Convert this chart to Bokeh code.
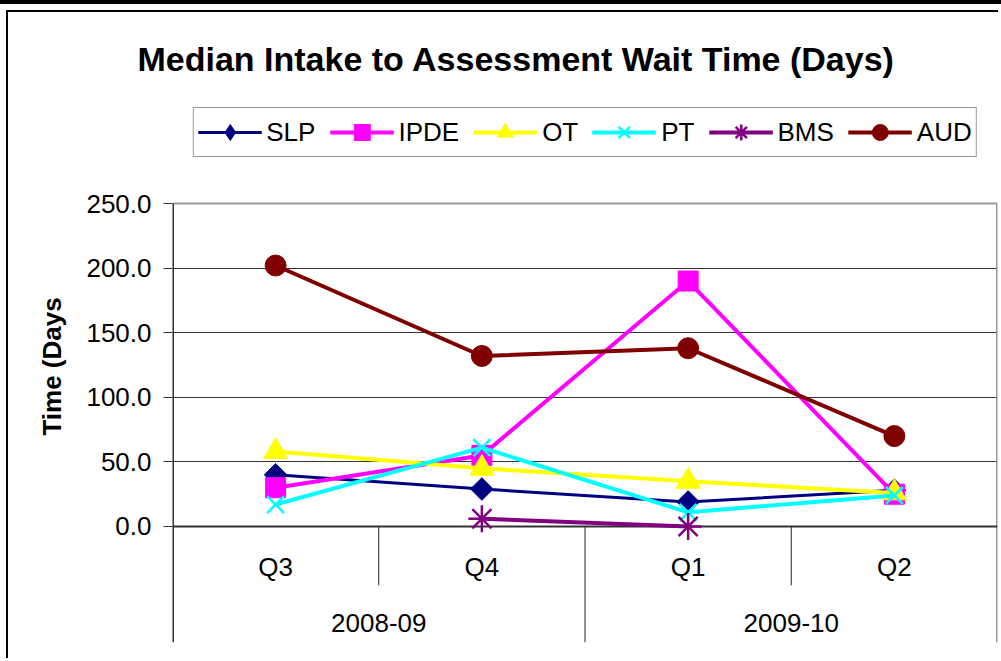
import math
from bokeh.plotting import figure
from bokeh.models import (FactorRange, ColumnDataSource, Legend, LegendItem,
                          NumeralTickFormatter, FixedTicker)
from bokeh.core.properties import value
from bokeh.embed import file_html
from bokeh.resources import INLINE

# ---- data ----
years = ["2008-09", "2008-09", "2009-10", "2009-10"]
quarters = ["Q3", "Q4", "Q1", "Q2"]
slp = [40.0, 29.0, 19.0, 28.0]
ipde = [30.0, 55.0, 190.0, 25.0]
ot = [58.0, 45.0, 35.0, 26.0]
pt = [17.0, 61.0, 11.0, 24.0]
bms = [float("nan"), 6.0, 0.0, float("nan")]
aud = [202.0, 132.0, 138.0, 70.0]
y_ticks = [0, 50, 100, 150, 200, 250]
series_names = ["SLP", "IPDE", "OT", "PT", "BMS", "AUD"]

factors = list(zip(years, quarters))
year_groups = list(dict.fromkeys(years))
FONT = "Liberation Sans"

# value axis runs 0..250; the frame is extended above (legend band)
# and below (category label band)
AX_MIN, AX_MAX = 0, 250
VIEW_TOP = 337.5
VIEW_BOTTOM = -89.8
Q_LABEL_Y = -31.7
YEAR_LABEL_Y = -75.0
SHORT_SEP = -45.5

x_range = FactorRange(*factors, group_padding=0, factor_padding=0, range_padding=0)
p = figure(x_range=x_range, y_range=(VIEW_BOTTOM, VIEW_TOP), width=992, height=648,
           output_backend="svg", toolbar_location=None, x_axis_location=None,
           min_border_left=164, min_border_right=3, min_border_top=78,
           min_border_bottom=18,
           title="Median Intake to Assessment Wait Time (Days)")
p.styles = {"border-top": "2px solid #000", "border-left": "2px solid #000",
            "margin-left": "6px", "margin-top": "10px",
            "box-shadow": "0 0 0 6px white, 0 -4px 0 6px black"}

p.title.text_font = FONT
p.title.text_font_size = "34px"
p.title.text_font_style = "bold"
p.title.text_color = "black"
p.title.align = "left"
p.title.offset = -35
p.title.standoff = 25

p.outline_line_color = None
p.background_fill_color = "white"

# grid (inner lines only)
p.xgrid.grid_line_color = None
p.ygrid.ticker = FixedTicker(ticks=y_ticks[1:-1])
p.ygrid.grid_line_color = "#333333"
p.ygrid.grid_line_width = 1

n = len(factors)
# plot-area border: top and right in grey, zero line and left line dark
p.segment(x0=[0], y0=[AX_MAX], x1=[n], y1=[AX_MAX], line_color="#999999", line_width=2)
p.segment(x0=[n], y0=[VIEW_BOTTOM], x1=[n], y1=[AX_MAX], line_color="#999999", line_width=3)
p.segment(x0=[0], y0=[AX_MIN], x1=[n], y1=[AX_MIN], line_color="#333333", line_width=2)
p.segment(x0=[0], y0=[VIEW_BOTTOM], x1=[0], y1=[AX_MAX], line_color="#333333", line_width=3)

# y axis
p.yaxis.ticker = FixedTicker(ticks=y_ticks)
p.yaxis.formatter = NumeralTickFormatter(format="0.0")
p.yaxis.axis_label = "Time (Days"
p.yaxis.axis_label_text_font = FONT
p.yaxis.axis_label_text_font_size = "26px"
p.yaxis.axis_label_text_font_style = "bold"
p.yaxis.axis_label_text_color = "black"
p.yaxis.axis_label_standoff = 16
p.yaxis.major_label_text_font = FONT
p.yaxis.major_label_text_font_size = "26px"
p.yaxis.major_label_text_color = "black"
p.yaxis.major_label_standoff = 12
p.yaxis.major_tick_out = 9
p.yaxis.major_tick_in = 0
p.yaxis.minor_tick_line_color = None
p.yaxis.axis_line_color = None
p.yaxis.major_tick_line_color = "#333333"

# category separators below zero (boundaries between factors)
sep_x, sep_y1 = [], []
for b in range(1, n):
    sep_x.append(b)
    sep_y1.append(VIEW_BOTTOM if factors[b - 1][0] != factors[b][0] else SHORT_SEP)
p.segment(x0=sep_x, y0=[AX_MIN] * len(sep_x), x1=sep_x, y1=sep_y1,
          line_color="#222222", line_width=1)

# category labels
p.text(x=factors, y=[Q_LABEL_Y] * n, text=quarters,
       text_font=value(FONT), text_font_size=value("26px"), text_color="black",
       text_align="center", text_baseline="middle")
p.text(x=year_groups, y=[YEAR_LABEL_Y] * len(year_groups), text=year_groups,
       text_font=value(FONT), text_font_size=value("26px"), text_color="black",
       text_align="center", text_baseline="middle")

src = ColumnDataSource(dict(x=factors, slp=slp, ipde=ipde, ot=ot, pt=pt, bms=bms, aud=aud))

# (column, colour, marker, size, line width, marker angle)
styles = [
    ("slp", "#000080", "square", 16, 3, math.pi / 4),
    ("ipde", "#FF00FF", "square", 20, 4, 0),
    ("ot", "#FFFF00", "triangle", 24, 4, 0),
    ("pt", "#00FFFF", "x", 24, 4, 0),
    ("bms", "#800080", "asterisk", 27, 4, 0),
    ("aud", "#800000", "circle", 21, 4, 0),
]
items = []
for (col, color, marker, size, lw, ang), name in zip(styles, series_names):
    ln = p.line("x", col, source=src, line_color=color, line_width=lw)
    if marker in ("x", "asterisk"):
        sc = p.scatter("x", col, source=src, marker=marker, size=size,
                       line_color=color, line_width=2.5)
    else:
        sc = p.scatter("x", col, source=src, marker=marker, size=size, angle=ang,
                       fill_color=color, line_color=color)
    legend_marker = sc
    if ang:
        # legend swatch: an unrotated diamond (no visible points in the plot)
        legend_marker = p.scatter(x=[factors[0]], y=[float("nan")], marker="diamond",
                                  size=24, fill_color=color, line_color=color)
    items.append(LegendItem(label=name, renderers=[ln, legend_marker]))

legend = Legend(items=items, orientation="horizontal", location="top_center",
                label_text_font=FONT, label_text_font_size="26px", label_text_color="black",
                glyph_width=64, glyph_height=40, label_standoff=5, spacing=14,
                padding=4, margin=17, border_line_color="#333333", border_line_width=1,
                background_fill_color="white", background_fill_alpha=1)
p.add_layout(legend, "center")

open("out.html", "w").write(file_html(p, INLINE))
